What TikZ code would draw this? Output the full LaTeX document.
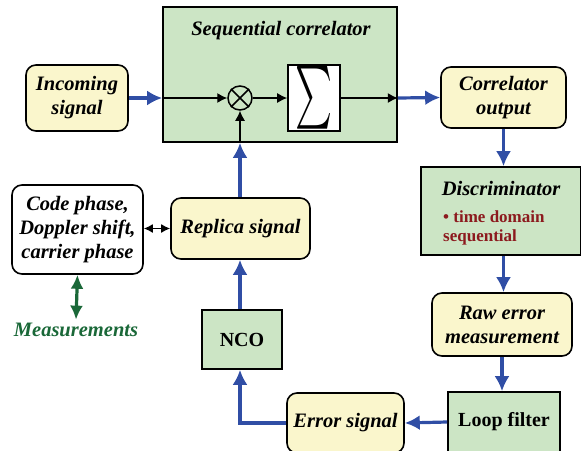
\documentclass[tikz,border=0pt]{standalone}
\usepackage{fontspec}
\usepackage{graphicx}
\setmainfont{Liberation Serif}
\usetikzlibrary{arrows.meta}
\definecolor{boxyellow}{RGB}{250,246,204}
\definecolor{boxgreen}{RGB}{204,229,197}
\definecolor{flowblue}{RGB}{48,78,165}
\definecolor{measgreen}{RGB}{26,104,56}
\definecolor{notered}{RGB}{140,26,30}
\newcommand\boxfont{\fontsize{20.5}{24}\selectfont\bfseries\itshape}
\newcommand\uprightfont{\fontsize{20}{24}\selectfont\bfseries}
\newcommand\notefont{\fontsize{17}{19}\selectfont\bfseries}
\tikzset{
  roundbox/.style={draw, line width=1.6pt, rounded corners=10pt, fill=boxyellow,
    align=center, inner sep=0pt, font=\boxfont},
  greenbox/.style={draw, line width=1.6pt, fill=boxgreen, align=center, inner sep=0pt},
  flow/.style={-{Latex[length=15pt,width=15pt]}, draw=flowblue, line width=3.2pt},
  sigline/.style={-{Latex[length=10pt,width=10pt]}, line width=1.3pt},
}
\begin{document}
\begin{tikzpicture}[x=1pt, y=-1pt]
  \useasboundingbox (0,0) rectangle (581,450);
  % Korrelator
  \node[greenbox, minimum width=234pt, minimum height=135pt] (corr) at (280,74.5) {};
  \node[font=\boxfont] (corrtitle) at (281,31) {Sequential correlator};
  \node[circle, draw, line width=1.5pt, minimum size=24pt, inner sep=0pt] (mult) at (240,98) {};
  \draw[line width=1.5pt] (mult.45) -- (mult.225) (mult.135) -- (mult.315);
  \node[draw, fill=white, line width=1.6pt, minimum width=52pt, minimum height=66pt,
    inner sep=0pt] (sigma) at (314,98) {\resizebox{37pt}{47pt}{$\textstyle\sum$}};
  % Bloecke
  \node[roundbox, minimum width=102pt, minimum height=66pt] (inc) at (77,98) {Incoming\\signal};
  \node[roundbox, minimum width=125pt, minimum height=61pt] (out) at (503.5,97.5) {Correlator\\output};
  \node[greenbox, minimum width=160pt, minimum height=88pt] (disc) at (501,211) {};
  \node[font=\boxfont] (disctitle) at (501,188) {Discriminator};
  \node[font=\notefont, text=notered, align=left, anchor=west, inner sep=0pt]
    (discnote) at (443,228) {\textbullet\ time domain\\sequential};
  \node[roundbox, minimum width=140pt, minimum height=63pt] (raw) at (502,324.5) {Raw error\\measurement};
  \node[greenbox, minimum width=112pt, minimum height=60pt, font=\uprightfont]
    (loop) at (504,422) {Loop filter};
  \node[roundbox, minimum width=117pt, minimum height=60pt] (err) at (345.5,423) {Error signal};
  \node[greenbox, minimum width=80pt, minimum height=59pt, font=\uprightfont]
    (nco) at (242,339.5) {NCO};
  \node[roundbox, minimum width=139pt, minimum height=61pt] (rep) at (240.5,228.5) {Replica signal};
  \node[roundbox, fill=white, minimum width=131pt, minimum height=89pt] (code) at (77.5,229.5)
    {Code phase,\\Doppler shift,\\carrier phase};
  \node[font=\boxfont, text=measgreen] (meas) at (76,330) {Measurements};
  % Signalweg im Korrelator
  \coordinate (corrin) at (inc.east -| corr.west);
  \coordinate (corrout) at (sigma.east -| corr.east);
  \coordinate (corrbot) at (mult |- corr.south);
  \draw[sigline] (corrin) -- (mult.west);
  \draw[sigline] (mult.east) -- (sigma.west);
  \draw[sigline] (sigma.east) -- (corrout);
  \draw[sigline] (corrbot) -- (mult.south);
  % Regelschleife
  \draw[flow] (inc.east) -- (corrin);
  \draw[flow] (corrout) -- (out.west);
  \draw[flow] (out.south) -- (out.south |- disc.north);
  \draw[flow] (disc.south -| out.south) -- (out.south |- raw.north);
  \draw[flow] (raw.south) -- (raw.south |- loop.north);
  \draw[flow] (loop.west) -- (err.east);
  \draw[flow] (err.west) -- (err.west -| mult) -- (mult |- nco.south);
  \draw[flow] (mult |- nco.north) -- (mult |- rep.south);
  \draw[flow] (mult |- rep.north) -- (corrbot);
  % Messgroessen
  \draw[{Latex[length=9pt,width=9pt]}-{Latex[length=9pt,width=9pt]}, line width=1.5pt]
    (code.east |- rep.west) -- (rep.west);
  \draw[{Latex[length=14pt,width=13pt]}-{Latex[length=14pt,width=13pt]}, draw=measgreen,
    line width=3.2pt] (code.south) -- (meas.north);
\end{tikzpicture}
\end{document}
